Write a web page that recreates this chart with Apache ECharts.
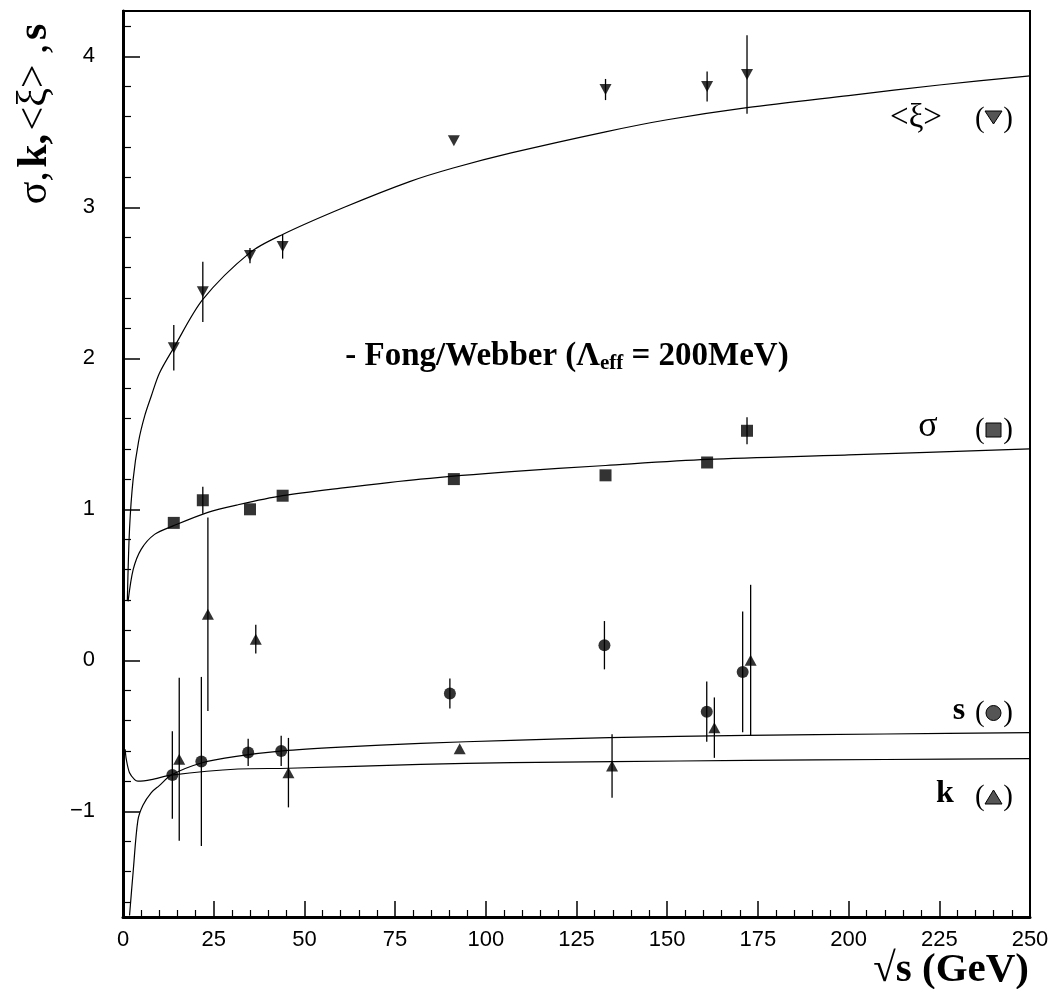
<!DOCTYPE html>
<html>
<head>
<meta charset="utf-8">
<script src="https://cdn.jsdelivr.net/npm/echarts@6/dist/echarts.min.js"></script>
<style>
  html, body { margin: 0; padding: 0; background: #fff; }
  #chart { width: 1058px; height: 989px; }
</style>
</head>
<body>
<div id="chart"></div>
<script>
// Measured values: sqrt(s) in GeV, value, symmetric error
const xiX   = [14, 22, 35, 44, 91.2, 133, 161, 172];
const xiY   = [2.07, 2.44, 2.68, 2.74, 3.44, 3.78, 3.80, 3.88];
const xiErr = [0.15, 0.20, 0.05, 0.08, 0, 0.07, 0.10, 0.26];

const sigmaX   = [14, 22, 35, 44, 91.2, 133, 161, 172];
const sigmaY   = [0.91, 1.06, 1.00, 1.09, 1.20, 1.225, 1.31, 1.52];
const sigmaErr = [0, 0.09, 0, 0, 0, 0, 0, 0.09];

const kX   = [15.5, 23.4, 36.6, 45.6, 92.8, 134.8, 163, 173];
const kY   = [-0.655, 0.305, 0.14, -0.744, -0.585, -0.70, -0.446, 0.0];
const kErr = [0.54, 0.64, 0.095, 0.23, 0, 0.21, 0.20, 0.50];

const sX   = [13.6, 21.6, 34.5, 43.6, 90.1, 132.7, 160.9, 170.8];
const sY   = [-0.76, -0.67, -0.61, -0.60, -0.22, 0.10, -0.34, -0.077];
const sErr = [0.29, 0.56, 0.09, 0.10, 0.10, 0.16, 0.20, 0.40];

// Fong/Webber predictions (Lambda_eff = 200 MeV)
const xiCurveX = [1.2, 1.8, 2.8, 4.3, 6, 7.8, 10, 14, 22, 35, 44, 61, 79, 91, 107, 133, 150, 172, 200, 225, 250];
const xiCurveY = [0.40, 0.87, 1.20, 1.45, 1.62, 1.75, 1.90, 2.07, 2.39, 2.70, 2.82, 3.00, 3.17, 3.26, 3.36, 3.50, 3.58, 3.66, 3.74, 3.81, 3.87];

const sigmaCurveX = [1.4, 2.8, 5, 8.7, 13.8, 23.4, 31.7, 44, 60, 82, 107, 133, 161, 200, 250];
const sigmaCurveY = [0.39, 0.60, 0.735, 0.834, 0.89, 0.98, 1.03, 1.09, 1.14, 1.20, 1.25, 1.29, 1.33, 1.36, 1.40];

const sCurveX = [1.8, 2.8, 4.1, 5.5, 7.8, 10, 13.3, 21.6, 31.7, 44, 60, 82, 107, 134, 172, 210, 250];
const sCurveY = [-1.69, -1.40, -1.06, -0.96, -0.876, -0.83, -0.76, -0.68, -0.635, -0.60, -0.575, -0.55, -0.53, -0.512, -0.497, -0.488, -0.479];

const kCurveX = [0.6, 0.9, 1.8, 3.2, 4.1, 7.8, 13.3, 31.7, 45.6, 82, 107, 135, 172, 210, 250];
const kCurveY = [-0.59, -0.655, -0.745, -0.79, -0.80, -0.79, -0.76, -0.72, -0.715, -0.689, -0.678, -0.671, -0.663, -0.657, -0.651];

// Axis ticks
const xTickStep = 25;
const yMajorTicks = [-1, 0, 1, 2, 3, 4];
const yMinorTicks = [-1.6, -1.4, -1.2, -0.8, -0.6, -0.4, -0.2, 0.2, 0.4, 0.6, 0.8,
                     1.2, 1.4, 1.6, 1.8, 2.2, 2.4, 2.6, 2.8, 3.2, 3.4, 3.6, 3.8, 4.2];

const zip2 = (xs, ys) => xs.map((x, i) => [x, ys[i]]);
const zip3 = (xs, ys, es) => xs.map((x, i) => [x, ys[i], es[i]]);

const SERIF = '"Liberation Serif", "DejaVu Serif", serif';
const SANS = '"Liberation Sans", Arial, sans-serif';

function curve(name, xs, ys) {
  return {
    name, type: 'line', data: zip2(xs, ys), showSymbol: false,
    smooth: 0.3, silent: true, z: 2,
    lineStyle: { color: '#000', width: 1.2 }
  };
}

function errorBars(name, xs, ys, es) {
  return {
    name, type: 'custom', data: zip3(xs, ys, es), z: 3, silent: true,
    renderItem: function (params, api) {
      const e = api.value(2);
      if (!(e > 0)) return null;
      const x = api.value(0), y = api.value(1);
      const p1 = api.coord([x, y - e]);
      const p2 = api.coord([x, y + e]);
      return {
        type: 'line',
        shape: { x1: p1[0], y1: p1[1], x2: p2[0], y2: p2[1] },
        style: { stroke: '#000', lineWidth: 1.3 }
      };
    }
  };
}

function markers(name, xs, ys, symbol, size, rotate) {
  return {
    name, type: 'scatter', data: zip2(xs, ys), symbol, symbolSize: size,
    symbolRotate: rotate || 0, z: 4, silent: true,
    itemStyle: { color: '#000' }
  };
}

const chart = echarts.init(document.getElementById('chart'), null, { renderer: 'canvas' });

// annotations at the right edge: name + (symbol)
const icoStyle = { fill: '#555', stroke: '#000', lineWidth: 1 };
function paren(x, y) {
  return [
    { type: 'text', x: x, y: y, style: { text: '(', font: '29px ' + SERIF, fill: '#000', textAlign: 'left', textVerticalAlign: 'middle' } },
    { type: 'text', x: x + 38, y: y, style: { text: ')', font: '29px ' + SERIF, fill: '#000', textAlign: 'right', textVerticalAlign: 'middle' } }
  ];
}

const graphics = [
  // y-axis title
  {
    type: 'text', x: 35, y: 114, rotation: Math.PI / 2,
    style: {
      text: '{n|σ,} {b|k,} {n|<ξ> ,} {b|s}',
      textAlign: 'center', textVerticalAlign: 'middle',
      rich: {
        n: { font: '42px ' + SERIF, fill: '#000' },
        b: { font: 'bold 42px ' + SERIF, fill: '#000' }
      }
    }
  },
  // x-axis title
  {
    type: 'text', x: 1029, y: 970,
    style: { text: '√s (GeV)', font: 'bold 41px ' + SERIF, fill: '#000', textAlign: 'right', textVerticalAlign: 'middle' }
  },
  // model label
  {
    type: 'text', x: 567, y: 356,
    style: {
      text: '{m|- Fong/Webber (Λ}{sub|eff}{m| = 200MeV)}',
      textAlign: 'center', textVerticalAlign: 'middle',
      rich: {
        m: { font: 'bold 33px ' + SERIF, fill: '#000' },
        sub: { font: 'bold 21px ' + SERIF, fill: '#000', padding: [16, 0, 0, 0] }
      }
    }
  },
  // <xi>
  { type: 'text', x: 916, y: 118, style: { text: '<ξ>', font: '33px ' + SERIF, fill: '#000', textAlign: 'center', textVerticalAlign: 'middle' } },
  ...paren(975, 119),
  { type: 'polygon', shape: { points: [[985, 111], [1002, 111], [993.5, 124]] }, style: icoStyle },
  // sigma
  { type: 'text', x: 928, y: 427, style: { text: 'σ', font: '36px ' + SERIF, fill: '#000', textAlign: 'center', textVerticalAlign: 'middle' } },
  ...paren(975, 430),
  { type: 'rect', shape: { x: 986, y: 423, width: 15, height: 14 }, style: icoStyle },
  // s
  { type: 'text', x: 959, y: 711, style: { text: 's', font: 'bold 32px ' + SERIF, fill: '#000', textAlign: 'center', textVerticalAlign: 'middle' } },
  ...paren(975, 713),
  { type: 'circle', shape: { cx: 993.5, cy: 713, r: 7.5 }, style: icoStyle },
  // k
  { type: 'text', x: 945, y: 794, style: { text: 'k', font: 'bold 32px ' + SERIF, fill: '#000', textAlign: 'center', textVerticalAlign: 'middle' } },
  ...paren(975, 797),
  { type: 'polygon', shape: { points: [[985, 804], [1002, 804], [993.5, 790]] }, style: icoStyle }
];

chart.setOption({
  animation: false,
  backgroundColor: '#fff',
  grid: {
    left: 123, right: 28, top: 11, bottom: 72,
    show: true, borderColor: '#000', borderWidth: 2, backgroundColor: 'transparent'
  },
  xAxis: {
    type: 'value', min: 0, max: 250, interval: xTickStep,
    axisLine: { show: true, onZero: false, lineStyle: { color: '#000', width: 3 } },
    axisTick: { show: true, inside: true, length: 16, lineStyle: { color: '#000', width: 1.5 } },
    minorTick: { show: true, splitNumber: 5, length: 7, lineStyle: { color: '#000', width: 1.2 } },
    axisLabel: { color: '#000', fontFamily: SANS, fontSize: 22, margin: 12, showMinLabel: true, showMaxLabel: true },
    splitLine: { show: false }
  },
  yAxis: [
    {
      type: 'value', min: -1.7, max: 4.3, position: 'left',
      axisLine: { show: true, onZero: false, lineStyle: { color: '#000', width: 3 } },
      axisTick: { show: true, inside: true, length: 17, customValues: yMajorTicks, lineStyle: { color: '#000', width: 1.5 } },
      axisLabel: {
        color: '#000', fontFamily: SANS, fontSize: 22, margin: 28, customValues: yMajorTicks,
        formatter: v => (v < 0 ? '\u2212' + Math.abs(v) : String(v))
      },
      splitLine: { show: false }
    },
    {
      type: 'value', min: -1.7, max: 4.3, position: 'left', offset: 0,
      axisLine: { show: false },
      axisTick: { show: true, inside: true, length: 8, customValues: yMinorTicks, lineStyle: { color: '#000', width: 1.2 } },
      axisLabel: { show: false },
      splitLine: { show: false }
    }
  ],
  series: [
    curve('xi-model', xiCurveX, xiCurveY),
    curve('sigma-model', sigmaCurveX, sigmaCurveY),
    curve('s-model', sCurveX, sCurveY),
    curve('k-model', kCurveX, kCurveY),
    errorBars('xi-err', xiX, xiY, xiErr),
    errorBars('sigma-err', sigmaX, sigmaY, sigmaErr),
    errorBars('k-err', kX, kY, kErr),
    errorBars('s-err', sX, sY, sErr),
    markers('<ξ>', xiX, xiY, 'triangle', [12, 11], 180),
    markers('σ', sigmaX, sigmaY, 'rect', [12, 12]),
    markers('k', kX, kY, 'triangle', [12, 11]),
    markers('s', sX, sY, 'circle', 12)
  ],
  graphic: graphics
});
</script>
</body>
</html>
